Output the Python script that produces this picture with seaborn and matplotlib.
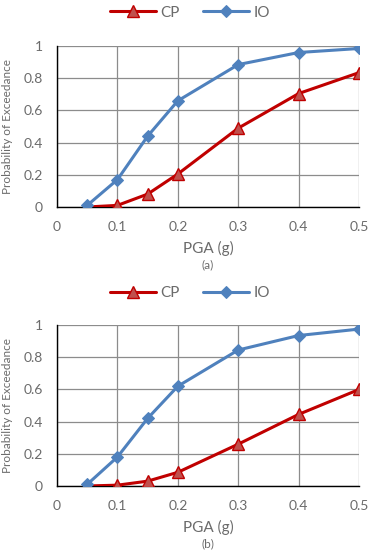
import numpy as np
import pandas as pd
import matplotlib
matplotlib.use("Agg")
import matplotlib.pyplot as plt
import seaborn as sns

pga = [0.05, 0.1, 0.15, 0.2, 0.3, 0.4, 0.5]
io_a = [0.01, 0.17, 0.44, 0.66, 0.885, 0.96, 0.985]
cp_a = [0.0, 0.01, 0.08, 0.205, 0.49, 0.705, 0.835]
io_b = [0.01, 0.18, 0.42, 0.62, 0.845, 0.935, 0.975]
cp_b = [0.0, 0.005, 0.03, 0.085, 0.26, 0.445, 0.60]
xticks = [0, 0.1, 0.2, 0.3, 0.4, 0.5]
yticks = [0, 0.2, 0.4, 0.6, 0.8, 1]
panel_labels = ["(a)", "(b)"]

sns.set_style("white")
plt.rcParams['font.family'] = ['Lato', 'DejaVu Sans']

red_line = "#C00000"
red_fill = "#C0504D"
blue = "#4F81BD"
txt = "#6b6b6b"

fig = plt.figure(figsize=(3.8, 5.53), dpi=100)
positions = [[0.15, 0.6257, 0.795, 0.291], [0.15, 0.1212, 0.795, 0.291]]
legend_y = [0.977, 0.47]

for i, (cp, io) in enumerate([(cp_a, io_a), (cp_b, io_b)]):
    ax = fig.add_axes(positions[i])
    df = pd.DataFrame({"PGA": pga * 2, "P": cp + io, "s": ["CP"] * len(pga) + ["IO"] * len(pga)})
    sns.lineplot(data=df[df.s == "CP"], x="PGA", y="P", ax=ax, color=red_line, lw=2.2,
                 marker="^", markersize=8, markerfacecolor=red_fill, markeredgecolor=red_line,
                 markeredgewidth=1.0, label="CP", zorder=3)
    sns.lineplot(data=df[df.s == "IO"], x="PGA", y="P", ax=ax, color=blue, lw=2.2,
                 marker="D", markersize=6, markerfacecolor=blue, markeredgecolor=blue,
                 label="IO", zorder=4)
    ax.set_xlim(0, 0.5)
    ax.set_ylim(0, 1)
    ax.set_xticks(xticks)
    ax.set_xticklabels([f"{v:g}" for v in xticks])
    ax.set_yticks(yticks)
    ax.set_yticklabels([f"{v:g}" for v in yticks])
    ax.grid(True, color="#8c8c8c", lw=0.9)
    ax.set_axisbelow(True)
    for s in ["top", "right"]:
        ax.spines[s].set_visible(False)
    for s in ["left", "bottom"]:
        ax.spines[s].set_color("black")
        ax.spines[s].set_linewidth(1.0)
    ax.tick_params(axis="both", direction="out", length=4, width=0.8, color="black",
                   labelsize=10, labelcolor=txt, pad=6)
    ax.set_xlabel("PGA (g)", fontsize=11, color=txt, labelpad=6)
    ax.set_ylabel("Probability of Exceedance", fontsize=8.5, color=txt, labelpad=8)
    ax.text(0.5, -0.325, panel_labels[i], transform=ax.transAxes, ha="center", va="top",
            fontsize=8.5, color=txt)
    ax.legend(loc="center", bbox_to_anchor=(0.5, legend_y[i]), bbox_transform=fig.transFigure,
              ncol=2, frameon=False, fontsize=11, handlelength=3.0, columnspacing=1.5,
              handletextpad=0.3, labelcolor=txt)

fig.savefig("out.png", dpi=100)
